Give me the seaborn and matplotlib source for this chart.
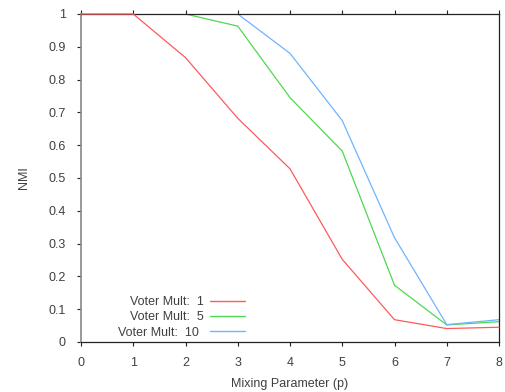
import numpy as np
import pandas as pd
import matplotlib
matplotlib.use("Agg")
import matplotlib.pyplot as plt
from matplotlib.lines import Line2D
import seaborn as sns

# mixing parameter values on the x axis
mixing = [0, 1, 2, 3, 4, 5, 6, 7, 8]
# NMI for each voter multiplier
nmi_mult1 = [1.0, 1.0, 0.867, 0.682, 0.528, 0.252, 0.068, 0.041, 0.045]
nmi_mult5 = [1.0, 1.0, 1.0, 0.963, 0.745, 0.582, 0.173, 0.052, 0.062]
nmi_mult10 = [1.0, 1.0, 1.0, 1.0, 0.88, 0.675, 0.318, 0.053, 0.068]
labels = ["Voter Mult:  1", "Voter Mult:  5", "Voter Mult:  10"]
colors = ["#ff5a5a", "#4fd84f", "#6eb4ff"]

df = pd.concat([
    pd.DataFrame({"p": mixing, "NMI": vals, "series": lab})
    for vals, lab in zip([nmi_mult1, nmi_mult5, nmi_mult10], labels)
])

sns.set_style("white")
plt.rcParams['font.family'] = ['Liberation Sans', 'DejaVu Sans']
txt = "#404040"

fig = plt.figure(figsize=(5.05, 3.92), dpi=100)
ax = fig.add_axes([81/505, 50/392, 418/505, 328/392])

sns.lineplot(data=df, x="p", y="NMI", hue="series", palette=colors,
             linewidth=0.9, ax=ax, legend=False)
# red line sits over the top border in the original
ax.lines[0].set_clip_on(False)
ax.lines[0].set_zorder(5)

ax.set_xlim(0, 8)
ax.set_ylim(0, 1)
ax.set_xticks(range(0, 9))
ax.set_yticks(np.arange(0, 1.01, 0.1))
ax.set_yticklabels(["0", "0.1", "0.2", "0.3", "0.4", "0.5", "0.6", "0.7", "0.8", "0.9", "1"])
ax.tick_params(axis="both", labelsize=9, labelcolor=txt, length=3, width=0.8,
               color="#222222", direction="out", pad=8)
ax.tick_params(axis="x", top=True, bottom=True)
ax.tick_params(axis="y", left=True, right=False)
ax.set_xlabel("Mixing Parameter (p)", fontsize=9, color=txt, labelpad=6)
ax.set_ylabel("NMI", fontsize=9, color=txt, labelpad=13)

for side in ["top", "right", "bottom"]:
    ax.spines[side].set_color("#222222")
    ax.spines[side].set_linewidth(0.9)
ax.spines["left"].set_color("#888888")
ax.spines["left"].set_linewidth(1.2)

handles = [Line2D([], [], color=c, linewidth=1.0) for c in colors]
leg = ax.legend(handles, labels, loc="lower left", bbox_to_anchor=(0.062, -0.024),
                frameon=False, markerfirst=False, fontsize=9, handlelength=2.8,
                labelspacing=0.25, handletextpad=0.9)
# right-align the legend labels by nudging the shorter ones (offsets in points)
renderer = fig.canvas.get_renderer()
widths = [t.get_window_extent(renderer).width for t in leg.get_texts()]
shift = max(widths)
for t, w in zip(leg.get_texts(), widths):
    t.set_color(txt)
    t.set_position(((shift - w) * 72 / fig.dpi, 0))

fig.savefig("out.png", dpi=100)
